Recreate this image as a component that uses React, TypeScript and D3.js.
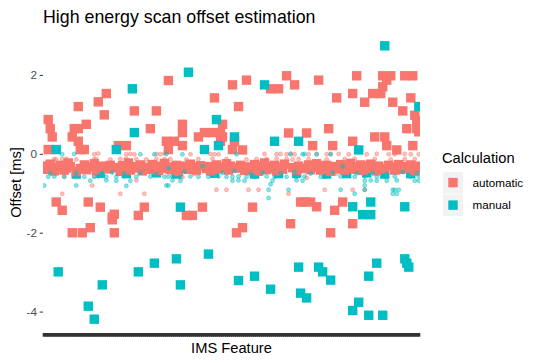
import * as d3 from "d3";

// IMS features on the x axis (labels are not shown, only ticks)
const featureCount = 188;
const features = d3.range(1, featureCount + 1);

const yTicks = [-4, -2, 0, 2];

const seriesNames = ["automatic", "manual"];
const seriesColors = ["#F8766D", "#00BFC4"];

// [feature, offset in ms]
const autoSquares: [number, number][] = [
  [63, 1.87], [95, 1.76], [32, 1.54], [28, 1.33], [18, 1.21], [86, 1.43], [98, 1.21], [31, 1.0],
  [46, 1.1], [57, 1.1], [3, 0.88], [22, 0.76], [70, 0.76], [90, 0.76], [4, 0.65], [16, 0.65],
  [18, 0.65], [54, 0.65], [70, 0.55], [81, 0.55], [85, 0.55], [89, 0.55], [5, 0.44], [15, 0.44],
  [78, 0.44], [90, 0.44], [62, 0.33], [66, 0.33], [18, 0.33], [89, 0.33], [96, 0.33], [38, 0.22],
  [42, 0.22], [70, 0.22], [3, 0.12], [19, 0.12], [21, 0.12], [63, 0.12], [95, 0.12],
  [122, 1.99], [157, 1.99], [170, 1.99], [174, 1.99], [181, 1.99], [185, 1.99], [102, 1.88],
  [138, 1.88], [126, 1.76], [114, 1.66], [118, 1.66], [172, 1.88], [147, 1.43], [155, 1.54],
  [165, 1.54], [169, 1.54], [170, 1.71], [184, 1.43], [161, 1.32], [175, 1.32], [180, 1.1],
  [186, 0.99], [187, 0.86], [182, 0.65], [187, 0.65], [123, 0.54], [132, 0.54], [143, 0.65],
  [166, 0.44], [171, 0.44], [155, 0.33], [135, 0.22], [145, 0.22], [172, 0.22], [185, 0.22],
  [177, 0.11], [100, 0.11], [188, 0.57],
  [7, -1.21], [10, -1.42], [23, -1.21], [29, -1.34], [35, -1.59], [36, -1.52], [35, -1.66],
  [48, -1.55], [51, -1.34], [72, -1.55], [75, -1.55], [80, -1.34], [105, -1.34], [24, -1.86],
  [15, -1.99], [20, -1.99], [36, -1.99], [100, -1.86], [97, -1.99], [124, -1.76], [144, -1.99],
  [155, -1.76], [131, -1.21], [134, -1.21], [129, -1.21], [137, -1.33], [150, -1.21], [146, -1.42],
];

const autoBand: [number, number][] = [
  [1, -0.3], [2, -0.38], [4, -0.25], [6, -0.42], [8, -0.33], [9, -0.28], [11, -0.4], [12, -0.35],
  [13, -0.22], [14, -0.31], [17, -0.44], [19, -0.36], [21, -0.27], [22, -0.39], [25, -0.32],
  [26, -0.24], [27, -0.41], [30, -0.3], [33, -0.37], [34, -0.28], [37, -0.34], [39, -0.43],
  [40, -0.29], [41, -0.36], [43, -0.22], [44, -0.4], [45, -0.31], [47, -0.35], [49, -0.27],
  [50, -0.42], [52, -0.33], [53, -0.38], [55, -0.26], [56, -0.34], [58, -0.41], [59, -0.3],
  [60, -0.36], [61, -0.23], [64, -0.39], [65, -0.32], [67, -0.28], [68, -0.44], [69, -0.35],
  [71, -0.3], [73, -0.38], [74, -0.25], [76, -0.33], [77, -0.4], [79, -0.29], [82, -0.36],
  [83, -0.31], [84, -0.42], [87, -0.27], [88, -0.37], [91, -0.33], [92, -0.24], [93, -0.4],
  [94, -0.3], [97, -0.35], [99, -0.28], [101, -0.41], [103, -0.32], [104, -0.37], [106, -0.26],
  [107, -0.34], [108, -0.43], [109, -0.3], [110, -0.36], [111, -0.22], [112, -0.39], [113, -0.31],
  [115, -0.35], [116, -0.28], [117, -0.42], [119, -0.33], [120, -0.38], [121, -0.25], [125, -0.34],
  [127, -0.41], [128, -0.3], [130, -0.36], [133, -0.27], [134, -0.39], [136, -0.32], [137, -0.24],
  [139, -0.4], [140, -0.3], [141, -0.35], [142, -0.28], [144, -0.43], [146, -0.31], [148, -0.37],
  [149, -0.26], [150, -0.34], [151, -0.4], [152, -0.29], [153, -0.36], [154, -0.23], [156, -0.38],
  [158, -0.32], [159, -0.27], [160, -0.41], [162, -0.3], [163, -0.36], [164, -0.25], [166, -0.34],
  [167, -0.42], [168, -0.3], [171, -0.37], [173, -0.28], [176, -0.4], [177, -0.33], [178, -0.26],
  [179, -0.38], [181, -0.31], [183, -0.35], [184, -0.27], [186, -0.42], [187, -0.3], [188, -0.36],
];

// manual squares inside the dense band, mostly hidden behind the automatic ones
const manualBand: [number, number][] = [
  [17, -0.5], [29, -0.48], [42, -0.49], [57, -0.47], [67, -0.5], [86, -0.48], [106, -0.5],
  [118, -0.49], [127, -0.48], [142, -0.5], [152, -0.49], [162, -0.47], [171, -0.5], [184, -0.49],
];

const manualSquares: [number, number][] = [
  [73, 2.08], [45, 1.66], [87, 0.88], [46, 0.55], [96, 0.44], [88, 0.22], [37, 0.12], [7, 0.12],
  [81, 0.12], [171, 2.75], [111, 1.76], [188, 1.21], [116, 0.33], [128, 0.33], [158, 0.11],
  [69, -1.34], [155, -1.33], [164, -1.21], [160, -1.53], [164, -1.53], [181, -1.33],
  [8, -2.98], [30, -3.31], [48, -2.98], [56, -2.76], [67, -2.65], [69, -3.31], [83, -2.53],
  [98, -3.2], [106, -3.09], [114, -3.42], [23, -3.85], [26, -4.18], [128, -2.86], [138, -2.86],
  [140, -2.98], [144, -3.19], [129, -3.52], [132, -3.64], [167, -2.76], [163, -3.09],
  [181, -2.65], [182, -2.76], [183, -2.86], [158, -3.75], [155, -3.96], [163, -4.08], [170, -4.08],
];

const autoCircles: [number, number][] = [
  [26, 0], [28, 0.02], [42, 0], [44, 0.01], [46, 0], [57, 0.01], [59, 0], [61, 0.02], [74, 0],
  [84, 0.01], [86, 0], [88, 0], [111, 0.01], [117, 0], [119, 0.01], [122, 0], [124, 0.02],
  [126, 0], [133, 0], [137, 0.01], [142, 0], [144, 0], [148, 0.01], [153, 0], [162, 0],
  [167, 0.01], [173, 0], [176, 0], [181, 0.01], [184, 0], [188, 0],
  [6, -0.12], [7, -0.13], [10, -0.12], [12, -0.11], [17, -0.13], [26, -0.12], [27, -0.12],
  [34, -0.13], [39, -0.12], [42, -0.11], [47, -0.12], [52, -0.13], [57, -0.12], [61, -0.12],
  [64, -0.12], [72, -0.13], [78, -0.12], [85, -0.11], [92, -0.12], [102, -0.13], [107, -0.12],
  [112, -0.12], [117, -0.11], [122, -0.12], [125, -0.13], [128, -0.12], [133, -0.12],
  [142, -0.13], [151, -0.12], [156, -0.11], [166, -0.12], [174, -0.13], [181, -0.12], [186, -0.12],
  [3, -0.35], [9, -0.45], [15, -0.28], [20, -0.4], [31, -0.33], [40, -0.48], [50, -0.3],
  [55, -0.44], [66, -0.36], [76, -0.5], [82, -0.29], [94, -0.42], [99, -0.34], [104, -0.47],
  [114, -0.3], [120, -0.45], [131, -0.38], [139, -0.26], [147, -0.49], [158, -0.33], [165, -0.43],
  [170, -0.3], [178, -0.46], [185, -0.36],
  [11, -0.56], [26, -0.56], [70, -0.58], [132, -0.6], [47, -0.66], [25, -0.79], [10, -1.0],
  [39, -1.0], [51, -1.0], [87, -0.9], [92, -0.9], [103, -0.9], [108, -0.9], [123, -1.0],
  [141, -0.9], [155, -0.9], [161, -0.9],
];

const manualCircles: [number, number][] = [
  [10, 0], [16, 0.01], [49, 0], [56, 0], [62, 0.01], [70, 0], [97, 0], [131, 0.01], [124, 0],
  [130, 0], [137, 0], [144, 0.01],
  [4, -0.48], [17, -0.47], [29, -0.5], [35, -0.46], [41, -0.49], [49, -0.47], [57, -0.5],
  [63, -0.35], [71, -0.44], [80, -0.3], [90, -0.47], [96, -0.42], [104, -0.5], [110, -0.46],
  [119, -0.48], [126, -0.44], [134, -0.49], [145, -0.46], [150, -0.3], [157, -0.48], [165, -0.47],
  [172, -0.5], [180, -0.45], [187, -0.48],
  [3, -0.57], [6, -0.56], [11, -0.57], [17, -0.56], [21, -0.57], [26, -0.57], [28, -0.56],
  [32, -0.57], [37, -0.57], [41, -0.56], [47, -0.57], [54, -0.56], [61, -0.57], [63, -0.57],
  [65, -0.56], [69, -0.57], [74, -0.56], [78, -0.57], [83, -0.57], [88, -0.56], [92, -0.57],
  [95, -0.57], [98, -0.56], [102, -0.57], [106, -0.57], [112, -0.56], [116, -0.57], [122, -0.57],
  [126, -0.56], [127, -0.57], [131, -0.56], [139, -0.57], [141, -0.57], [149, -0.56], [156, -0.57],
  [161, -0.56], [167, -0.57], [171, -0.57], [176, -0.56], [184, -0.57], [188, -0.56],
  [24, -0.67], [32, -0.66], [37, -0.67], [44, -0.67], [65, -0.66], [69, -0.67], [95, -0.67],
  [98, -0.66], [101, -0.67], [115, -0.67], [127, -0.66], [130, -0.67], [161, -0.67], [164, -0.66],
  [167, -0.67], [172, -0.67], [177, -0.66], [186, -0.67], [188, -0.67],
  [1, -0.79], [17, -0.79], [42, -0.8], [62, -0.79], [63, -0.79], [114, -0.76], [161, -0.79],
  [113, -0.9], [123, -0.9], [149, -0.9], [161, -0.9], [175, -0.9], [176, -0.9], [178, -0.9],
  [156, -1.0], [175, -1.0], [177, -1.0], [113, -1.11],
];

const W = 541;
const H = 363;
const margin = { top: 32, right: 121, bottom: 30, left: 43 };
const font = "'Liberation Sans', Arial, sans-serif";

export default function App() {
  const x = d3
    .scaleLinear()
    .domain([0.4, featureCount + 0.6])
    .range([margin.left, W - margin.right]);
  const y = d3
    .scaleLinear()
    .domain([-4.53, 3.1])
    .range([H - margin.bottom, margin.top]);

  const sq = 9.4;
  const [x0, x1] = x.range();
  const [yb, yt] = y.range();

  const squares = (data: [number, number][], color: string, key: string) =>
    data.map(([f, v], i) => (
      <rect
        key={key + i}
        x={x(f) - sq / 2}
        y={y(v) - sq / 2}
        width={sq}
        height={sq}
        fill={color}
      />
    ));

  const circles = (data: [number, number][], color: string, key: string) =>
    data.map(([f, v], i) => (
      <circle
        key={key + i}
        cx={x(f)}
        cy={y(v)}
        r={2}
        fill={color}
        fillOpacity={0.45}
        stroke={color}
        strokeOpacity={0.55}
        strokeWidth={0.8}
      />
    ));

  return (
    <svg
      width={W}
      height={H}
      style={{ position: "absolute", left: 0, top: 0, background: "#fff" }}
      fontFamily={font}
    >
      <defs>
        <clipPath id="panel">
          <rect x={x0} y={yt} width={x1 - x0} height={yb - yt} />
        </clipPath>
      </defs>

      <text x={43} y={23} fontSize={17.8} fill="#000">
        High energy scan offset estimation
      </text>

      <g clipPath="url(#panel)">
        {squares(manualBand, seriesColors[1], "mb")}
        {squares(autoSquares, seriesColors[0], "as")}
        {squares(autoBand, seriesColors[0], "ab")}
        {squares(manualSquares, seriesColors[1], "ms")}
        {circles(autoCircles, seriesColors[0], "ac")}
        {circles(manualCircles, seriesColors[1], "mc")}
      </g>

      {/* y axis */}
      {yTicks.map((t) => (
        <g key={t}>
          <line x1={x0 - 3.3} x2={x0} y1={y(t)} y2={y(t)} stroke="#333" strokeWidth={1} />
          <text
            x={x0 - 6}
            y={y(t)}
            dy="0.35em"
            textAnchor="end"
            fontSize={11.7}
            fill="#4D4D4D"
          >
            {t}
          </text>
        </g>
      ))}

      {/* x axis ticks: one per feature, so dense they merge into a bar */}
      {features.map((f) => (
        <line key={f} x1={x(f)} x2={x(f)} y1={yb} y2={yb + 3.7} stroke="#333" strokeWidth={3} />
      ))}

      <text
        x={(x0 + x1) / 2}
        y={353}
        textAnchor="middle"
        fontSize={14.7}
        fill="#000"
      >
        IMS Feature
      </text>
      <text
        transform={`translate(21,${(yt + yb) / 2}) rotate(-90)`}
        textAnchor="middle"
        fontSize={14.7}
        fill="#000"
      >
        Offset [ms]
      </text>

      {/* legend */}
      <g transform="translate(443,0)">
        <text x={-1} y={162.5} fontSize={14.7} fill="#000">
          Calculation
        </text>
        {seriesNames.map((name, i) => {
          const top = 172 + i * 22.5;
          return (
            <g key={name}>
              <rect x={0} y={top} width={20} height={21.5} fill="#F2F2F2" />
              <rect x={5.3} y={top + 5.9} width={sq} height={sq} fill={seriesColors[i]} />
              <text x={29.5} y={top + 14.8} fontSize={11.7} fill="#000">
                {name}
              </text>
            </g>
          );
        })}
      </g>
    </svg>
  );
}
